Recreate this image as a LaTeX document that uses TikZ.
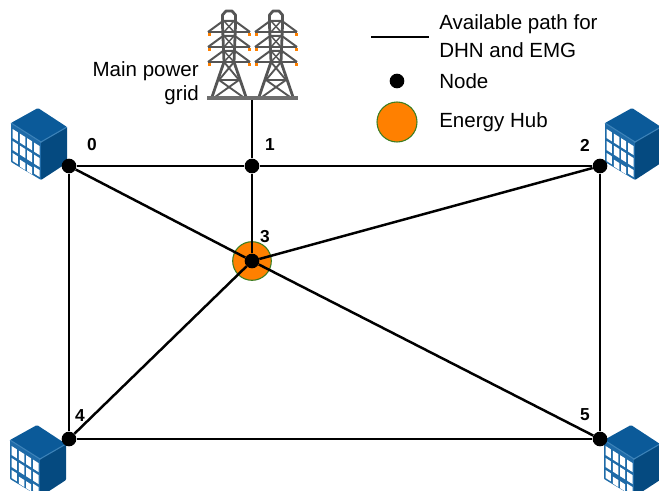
\documentclass[tikz,border=0pt]{standalone}
\usepackage{fontspec}
\setmainfont{Liberation Sans}
\definecolor{bldtop}{HTML}{0B5A99}
\definecolor{bldside}{HTML}{054A80}
\definecolor{bldleft}{HTML}{1F6BA8}
\definecolor{bldedge}{HTML}{3C82B8}
\definecolor{towergray}{HTML}{555555}
\definecolor{hub}{HTML}{FF8000}
\definecolor{hubedge}{HTML}{3C7D22}
\tikzset{
  x=0.75pt,y=-0.75pt,
  netdot/.style={circle,fill=black,draw=none,inner sep=0pt,minimum size=11pt},
  hubdot/.style={circle,fill=hub,draw=hubedge,line width=0.8pt,inner sep=0pt,minimum size=29pt},
  link/.style={line width=1.85pt,black},
  idx/.style={font=\bfseries\fontsize{13}{15}\selectfont,inner sep=0pt},
  legend/.style={font=\fontsize{15.4}{20.5}\selectfont,inner sep=0pt,align=left,anchor=west},
  gridlabel/.style={font=\fontsize{15.4}{18.2}\selectfont,inner sep=0pt,align=right,anchor=east},
  pics/building/.style={code={
    \fill[bldleft,rounded corners=0.6pt] (11,123) -- (41,142) -- (41,180) -- (11,162) -- cycle;
    \fill[bldside,rounded corners=0.6pt] (41,142) -- (67,127) -- (67,163) -- (41,180) -- cycle;
    \fill[bldtop,rounded corners=1pt] (38,108) -- (67,127) -- (41,142) -- (11,123) -- cycle;
    \draw[bldedge,line width=0.8pt] (11,123) -- (41,142) -- (67,127);
    \foreach \a/\b/\p/\q in {
      1.7/6.8/5/14, 8.8/14.3/5/14, 16/21.2/5/14, 23/28.5/5/14,
      1.7/6.8/17/26, 8.8/14.3/17/26, 16/21.2/17/26, 23/28.5/17/26,
      1.7/6.8/29/37, 8.8/14.3/31/38, 16/21.2/31/38, 23/28.5/29/36}{
      \fill[white] ({11+\a},{123+0.633*\a+\p}) -- ({11+\b},{123+0.633*\b+\p})
        -- ({11+\b},{123+0.633*\b+\q}) -- ({11+\a},{123+0.633*\a+\q}) -- cycle;
    }
  }},
  pics/tower/.style={code={
    \begin{scope}[towergray,line width=2.1pt,line join=round]
      \draw (-5,62) -- (-6.5,25) -- (-6.5,15) -- (-3,11) -- (3,11) -- (6.5,15) -- (6.5,25) -- (5,62);
      \draw (-5,62) -- (-17,97) (5,62) -- (17,97);
      \draw[line width=1.4pt] (-5,62) -- (10,80) -- (-14,97) (5,62) -- (-10,80) -- (14,97) (-10,80) -- (10,80);
      \foreach \y in {32,47,62}{
        \draw[line width=1.7pt] (-21,\y) -- (21,\y);
        \draw[line width=1.5pt] (-21,\y) -- (-6,{\y-11}) -- (6,{\y-11}) -- (21,\y);
        \draw[line width=1.1pt] (-5,{\y-11}) -- (5,\y) (5,{\y-11}) -- (-5,\y);
      }
      \foreach \y in {32,47,62}\foreach \s in {-20,20}
        \fill[hub] ({\s-1.5},{\y+1}) rectangle ({\s+1.5},{\y+4.5});
    \end{scope}
  }}
}
\begin{document}
\begin{tikzpicture}
\useasboundingbox (0,0) rectangle (659,491);
\begin{scope}
\clip (0,0) rectangle (659,491);
\pic at (0,0) {building};
\pic at (594,0) {building};
\pic at (-1,317) {building};
\pic at (593,317) {building};
\end{scope}
\pic at (229,0) {tower};
\pic at (276,0) {tower};
\fill[towergray!85!white] (207,96) rectangle (298,100);
\node[hubdot] (n3h) at (252,261) {};
\node[netdot] (n0) at (69,166) {};
\node[netdot] (n1) at (252,166) {};
\node[netdot] (n2) at (600,166) {};
\node[netdot] (n3) at (252,261) {};
\node[netdot] (n4) at (69,439) {};
\node[netdot] (n5) at (600,439) {};
\coordinate (gridtap) at (252,100);
\draw[link] (n0) -- (n1);
\draw[link] (n1) -- (n2);
\draw[link] (n0) -- (n4);
\draw[link] (n2) -- (n5);
\draw[link] (n4) -- (n5);
\draw[link] (n1) -- (n3);
\draw[link] (gridtap) -- (n1);
\draw[link] (n0) -- (n3);
\draw[link] (n2) -- (n3);
\draw[link] (n4) -- (n3);
\draw[link] (n5) -- (n3);
\node[idx] (l0) at (92,145) {0};
\node[idx] (l1) at (270,145) {1};
\node[idx] (l2) at (585,145) {2};
\node[idx] (l3) at (265,237) {3};
\node[idx] (l4) at (80,416) {4};
\node[idx] (l5) at (585,415) {5};
\node[gridlabel] (gridtext) at (199,83) {Main power\\grid};
\coordinate (legA) at (371,37);
\coordinate (legB) at (429,37);
\draw[link] (legA) -- (legB);
\node[legend] (t1) at (439,36) {Available path for\\DHN and EMG};
\node[netdot] (legdot) at (397,81) {};
\node[legend] (t2) at (439,81) {Node};
\node[hubdot,minimum size=30pt] (leghub) at (397,122) {};
\node[legend] (t3) at (439,122) {Energy Hub};
\end{tikzpicture}
\end{document}
